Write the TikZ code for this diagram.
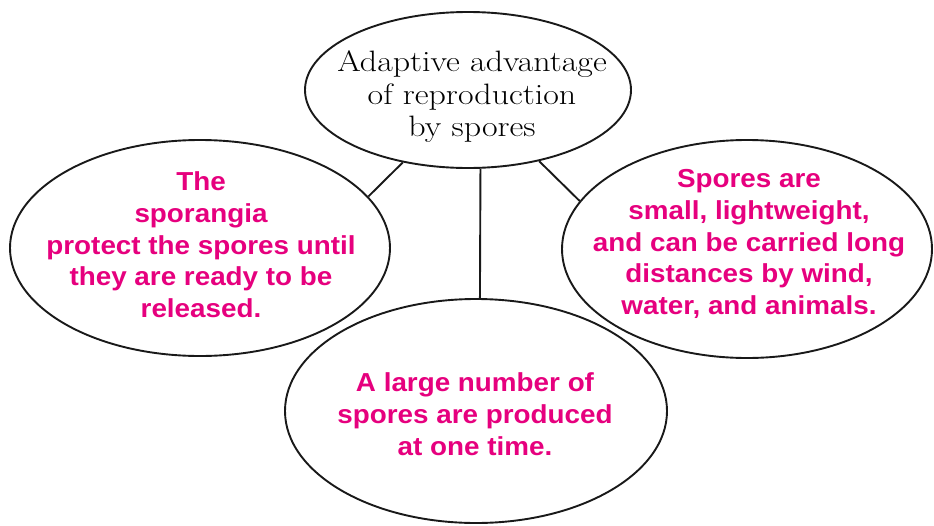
\documentclass[tikz,border=0pt]{standalone}
\usepackage{fontspec}
\setmainfont{Latin Modern Roman}
\newfontfamily\topfont{Latin Modern Roman}[FakeStretch=1.15]
\newfontfamily\magfont{Liberation Sans Bold}[FakeStretch=1.07]
\usetikzlibrary{shapes.geometric}
\definecolor{mag}{RGB}{230,0,126}
\tikzset{
  bubble/.style={draw=black!90, line width=1.9pt, ellipse, inner sep=0pt, fill=white, align=center},
  magtext/.style={text=mag, font=\magfont\fontsize{26}{31.7}\selectfont},
  toptext/.style={font=\topfont\fontsize{29.5}{32.5}\selectfont},
  link/.style={draw=black!90, line width=1.9pt}
}
\begin{document}
\begin{tikzpicture}[x=1pt,y=-1pt]
\useasboundingbox (0,0) rectangle (934,525);
\node[bubble, minimum width=326pt, minimum height=156pt] (top) at (468,90) {};
\node[toptext, align=center] (toptxt) at (472,97) {Adaptive advantage\\of reproduction\\by spores};
\node[bubble, minimum width=380pt, minimum height=216pt] (left) at (200,248) {};
\node[magtext, align=center] (lefttext) at (201,245) {The\\sporangia\\protect the spores until\\they are ready to be\\released.};
\node[bubble, minimum width=370pt, minimum height=218pt] (right) at (747,249) {};
\node[magtext, align=center] (righttext) at (749,244) {Spores are\\small, lightweight,\\and can be carried long\\distances by wind,\\water, and animals.};
\node[bubble, minimum width=382pt, minimum height=224pt] (bot) at (476,411) {};
\node[magtext, align=center] (bottext) at (475,414) {A large number of\\spores are produced\\at one time.};
\draw[link] (top.228) -- (left.17);
\draw[link] (top.-45) -- (right.164);
\draw[link] (top.-81) -- (bot.88);
\end{tikzpicture}
\end{document}
